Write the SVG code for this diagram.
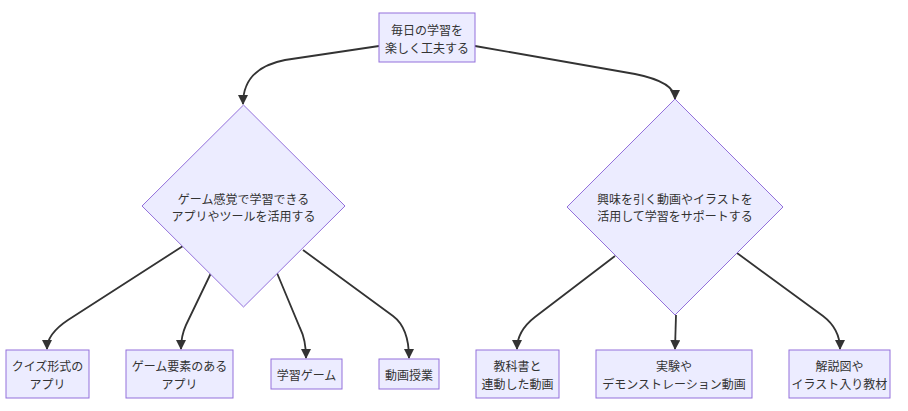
<svg xmlns="http://www.w3.org/2000/svg" width="908" height="411" viewBox="0 0 908 411">
<style>
.n{fill:#ECECFF;stroke:#9370DB;stroke-width:1}
.t{font-family:"Noto Sans CJK JP","Noto Sans",sans-serif;font-size:12px;fill:#333;text-anchor:middle;dominant-baseline:central}
.e{fill:none;stroke:#333;stroke-width:1.8}
</style>
<defs>
<marker id="a" viewBox="0 0 10 10" refX="9" refY="5" markerUnits="userSpaceOnUse" markerWidth="10" markerHeight="10" orient="auto">
<path d="M0,0 L10,5 L0,10 z" fill="#333"/>
</marker>
</defs>
<rect width="908" height="411" fill="#fff"/>
<g id="edges">
<path class="e" marker-end="url(#a)" d="M379,46 L285,60 Q243,68 243,104"/>
<path class="e" marker-end="url(#a)" d="M475,46 L635,74 Q675,82 675,99"/>
<path class="e" marker-end="url(#a)" d="M183,246 L68,320 Q47,334 47,349"/>
<path class="e" marker-end="url(#a)" d="M211,273 L186,325 Q181,336 181,349"/>
<path class="e" marker-end="url(#a)" d="M277,273 L300,328 Q306,340 306,358"/>
<path class="e" marker-end="url(#a)" d="M303,250 L393,316 Q409,328 409,358"/>
<path class="e" marker-end="url(#a)" d="M615,256 L535,317 Q517,331 517,349"/>
<path class="e" marker-end="url(#a)" d="M676,315 L675,349"/>
<path class="e" marker-end="url(#a)" d="M737,253 L823,316 Q840,329 840,349"/>
</g>
<g id="top">
<rect class="n" x="379" y="13" width="96" height="49"/>
<text class="t" x="427" y="29">毎日の学習を</text>
<text class="t" x="427" y="47">楽しく工夫する</text>
</g>
<g id="d1">
<polygon class="n" points="243.5,105 345,206 243.5,307 142,206"/>
<text class="t" x="243.5" y="198">ゲーム感覚で学習できる</text>
<text class="t" x="243.5" y="215">アプリやツールを活用する</text>
</g>
<g id="d2">
<polygon class="n" points="675,99 783,207 675,315 567,207"/>
<text class="t" x="675" y="198">興味を引く動画やイラストを</text>
<text class="t" x="675" y="215">活用して学習をサポートする</text>
</g>
<g id="n1">
<rect class="n" x="6" y="350" width="83" height="48"/>
<text class="t" x="47.5" y="365">クイズ形式の</text>
<text class="t" x="47.5" y="383">アプリ</text>
</g>
<g id="n2">
<rect class="n" x="126" y="350" width="107" height="48"/>
<text class="t" x="179.5" y="365">ゲーム要素のある</text>
<text class="t" x="179.5" y="383">アプリ</text>
</g>
<g id="n3">
<rect class="n" x="271" y="359" width="71" height="30"/>
<text class="t" x="306.5" y="374">学習ゲーム</text>
</g>
<g id="n4">
<rect class="n" x="379" y="359" width="60" height="30"/>
<text class="t" x="409" y="374">動画授業</text>
</g>
<g id="n5">
<rect class="n" x="476" y="350" width="83" height="48"/>
<text class="t" x="517.5" y="365">教科書と</text>
<text class="t" x="517.5" y="383">連動した動画</text>
</g>
<g id="n6">
<rect class="n" x="596" y="350" width="156" height="48"/>
<text class="t" x="674" y="365">実験や</text>
<text class="t" x="674" y="383">デモンストレーション動画</text>
</g>
<g id="n7">
<rect class="n" x="789" y="350" width="101" height="48"/>
<text class="t" x="839.5" y="365">解説図や</text>
<text class="t" x="839.5" y="383">イラスト入り教材</text>
</g>
</svg>
